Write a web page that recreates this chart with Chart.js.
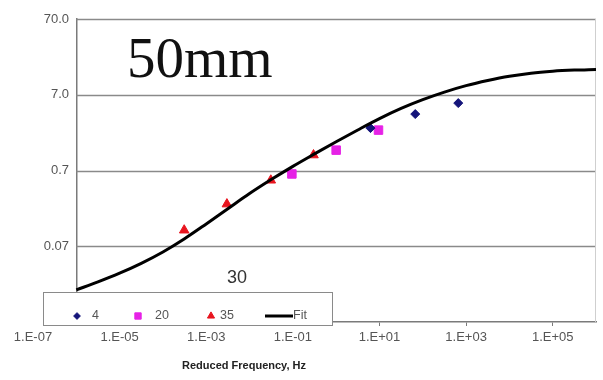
<!DOCTYPE html>
<html>
<head>
<meta charset="utf-8">
<script src="https://cdn.jsdelivr.net/npm/chart.js@4/dist/chart.umd.min.js"></script>
<style>
html, body { margin: 0; padding: 0; background: #fff; }
</style>
</head>
<body>
<canvas id="chart" width="603" height="380"></canvas>
<script>
// measured series, reduced frequency (Hz) vs modulus
const freq4 = [6.2, 67, 660];
const mod4 = [2.54, 3.89, 5.43];

const freq20 = [0.095, 1.0, 9.5];
const mod20 = [0.63, 1.30, 2.39];

const freq35 = [3.1e-4, 3.0e-3, 0.031, 0.30];
const mod35 = [0.114, 0.252, 0.52, 1.12];

// fit curve, every half decade
const fitFreq = [1e-6, 3.16e-6, 1e-5, 3.16e-5, 1e-4, 3.16e-4, 1e-3, 3.16e-3, 0.01, 0.0316, 0.1, 0.316,
    1, 3.16, 10, 31.6, 100, 316, 1000, 3160, 1e4, 3.16e4, 1e5, 3.16e5, 1e6];
const fitMod = [0.0186, 0.0237, 0.0309, 0.0417, 0.0589, 0.0881, 0.138, 0.219, 0.347, 0.531, 0.794, 1.16,
    1.68, 2.40, 3.39, 4.62, 6.03, 7.59, 9.23, 10.8, 12.3, 13.5, 14.3, 14.8, 15.1];

// tick labels
const xTicks = [1e-7, 1e-5, 1e-3, 1e-1, 1e1, 1e3, 1e5];
const xLabels = ['1.E-07', '1.E-05', '1.E-03', '1.E-01', '1.E+01', '1.E+03', '1.E+05'];
const yTicks = [0.007, 0.07, 0.7, 7, 70];
const yLabels = ['0.007', '0.07', '0.7', '7.0', '70.0'];

const panelTitle = '50mm';
const noteText = '30';
const xTitle = 'Reduced Frequency, Hz';

function toPoints(xs, ys)
{
    return xs.map((x, i) => ({ x: x, y: ys[i] }));
}

// left edge of the plot frame (the y axis crosses here)
const axisCross = 1e-6;

const decor = {
    id: 'decor',
    beforeDatasetsDraw(chart)
    {
        const ctx = chart.ctx;
        const area = chart.chartArea;
        const xs = chart.scales.x;
        const ys = chart.scales.y;
        const left = xs.getPixelForValue(axisCross);
        ctx.save();
        //horizontal grid lines, from the y axis to the right
        ctx.strokeStyle = '#8a8a8a';
        ctx.lineWidth = 1.5;
        yTicks.forEach(v =>
        {
            const py = Math.round(ys.getPixelForValue(v)) + 0.5;
            if (py > area.bottom - 2) return;
            ctx.beginPath();
            ctx.moveTo(left, py);
            ctx.lineTo(area.right, py);
            ctx.stroke();
        });
        //right frame line
        ctx.strokeStyle = '#cfcfcf';
        ctx.lineWidth = 1;
        ctx.beginPath();
        ctx.moveTo(area.right - 0.5, area.top);
        ctx.lineTo(area.right - 0.5, area.bottom);
        ctx.stroke();
        ctx.restore();
    },
    afterDraw(chart)
    {
        const ctx = chart.ctx;
        ctx.save();

        //legend box sitting over the bottom of the plot
        ctx.fillStyle = '#ffffff';
        ctx.fillRect(28, 292, 304, 36);
        ctx.strokeStyle = '#8a8a8a';
        ctx.lineWidth = 1;
        ctx.strokeRect(43.5, 292.5, 289, 33);

        const slots = [
            { mx: 77, tx: 92 },
            { mx: 138, tx: 155 },
            { mx: 211, tx: 220 },
            { mx: 279, tx: 293 },
        ];
        const legendY = 316;
        ctx.font = '12.5px "Liberation Sans", Arial, sans-serif';
        ctx.textBaseline = 'middle';
        chart.data.datasets.forEach((ds, i) =>
        {
            const s = slots[i];
            if (ds.showLine)
            {
                ctx.strokeStyle = ds.borderColor;
                ctx.lineWidth = 3;
                ctx.beginPath();
                ctx.moveTo(s.mx - 14, legendY);
                ctx.lineTo(s.mx + 14, legendY);
                ctx.stroke();
            }
            else
            {
                ctx.fillStyle = ds.backgroundColor;
                ctx.strokeStyle = ds.borderColor;
                ctx.lineWidth = 1;
                Chart.helpers.drawPoint(ctx, {
                    pointStyle: ds.pointStyle,
                    radius: ds.pointRadius * 0.75,
                    borderWidth: 1,
                    rotation: 0
                }, s.mx, legendY);
            }
            ctx.fillStyle = '#555';
            ctx.textAlign = 'left';
            ctx.fillText(ds.label, s.tx, legendY);
        });

        //panel title
        ctx.fillStyle = '#111';
        ctx.textAlign = 'left';
        ctx.textBaseline = 'alphabetic';
        ctx.font = '57px "Liberation Serif", "Times New Roman", serif';
        ctx.fillText(panelTitle, 127, 77);

        //stray note
        ctx.fillStyle = '#333';
        ctx.font = '18px "Liberation Sans", Arial, sans-serif';
        ctx.fillText(noteText, 227, 283);

        //x axis title
        ctx.fillStyle = '#222';
        ctx.textAlign = 'center';
        ctx.textBaseline = 'middle';
        ctx.font = 'bold 11px "Liberation Sans", Arial, sans-serif';
        ctx.fillText(xTitle, 244, 366);

        ctx.restore();
    }
};

const ctx = document.getElementById('chart');
new Chart(ctx, {
    type: 'scatter',
    data: {
        datasets: [
            {
                label: '4',
                data: toPoints(freq4, mod4),
                pointStyle: 'rectRot',
                pointRadius: 4.5,
                backgroundColor: '#14147a',
                borderColor: '#14147a',
                borderWidth: 1,
                order: 1
            },
            {
                label: '20',
                data: toPoints(freq20, mod20),
                pointStyle: 'rect',
                pointRadius: 6,
                backgroundColor: '#e622e6',
                borderColor: '#e622e6',
                borderWidth: 1,
                order: 1
            },
            {
                label: '35',
                data: toPoints(freq35, mod35),
                pointStyle: 'triangle',
                pointRadius: 5.5,
                backgroundColor: '#e8141e',
                borderColor: '#e8141e',
                borderWidth: 1,
                order: 1
            },
            {
                label: 'Fit',
                data: toPoints(fitFreq, fitMod),
                showLine: true,
                pointRadius: 0,
                borderColor: '#000000',
                backgroundColor: '#000000',
                borderWidth: 3,
                cubicInterpolationMode: 'monotone',
                order: 0
            }
        ]
    },
    options: {
        responsive: false,
        animation: false,
        layout: { padding: { left: 33, right: 5, top: 19, bottom: 0 } },
        plugins: {
            legend: { display: false },
            tooltip: { enabled: false },
            title: { display: false }
        },
        scales: {
            x: {
                type: 'logarithmic',
                position: 'bottom',
                min: 1e-7,
                max: 1e6,
                afterBuildTicks: (scale) => { scale.ticks = xTicks.map(v => ({ value: v })); },
                afterFit: (scale) => { scale.height = 58; },
                ticks: {
                    autoSkip: false,
                    maxRotation: 0,
                    padding: 4,
                    color: '#555',
                    font: { family: '"Liberation Sans", Arial, sans-serif', size: 13 },
                    callback: (v) => { const i = xTicks.indexOf(v); return i >= 0 ? xLabels[i] : ''; }
                },
                grid: { drawOnChartArea: false, tickLength: 4, color: '#7a7a7a' },
                border: { color: '#7a7a7a', width: 1.5 }
            },
            y: {
                type: 'logarithmic',
                position: { x: axisCross },
                min: 0.007,
                max: 70,
                afterBuildTicks: (scale) => { scale.ticks = yTicks.map(v => ({ value: v })); },
                ticks: {
                    color: '#555',
                    font: { family: '"Liberation Sans", Arial, sans-serif', size: 13 },
                    // positioned axis ignores padding, trailing spaces keep the gap to the line
                    callback: (v) => { const i = yTicks.indexOf(v); return i >= 0 ? yLabels[i] + '  ' : ''; }
                },
                grid: { drawOnChartArea: false, drawTicks: false },
                border: { color: '#7a7a7a', width: 1.5 }
            }
        }
    },
    plugins: [decor]
});
</script>
</body>
</html>
